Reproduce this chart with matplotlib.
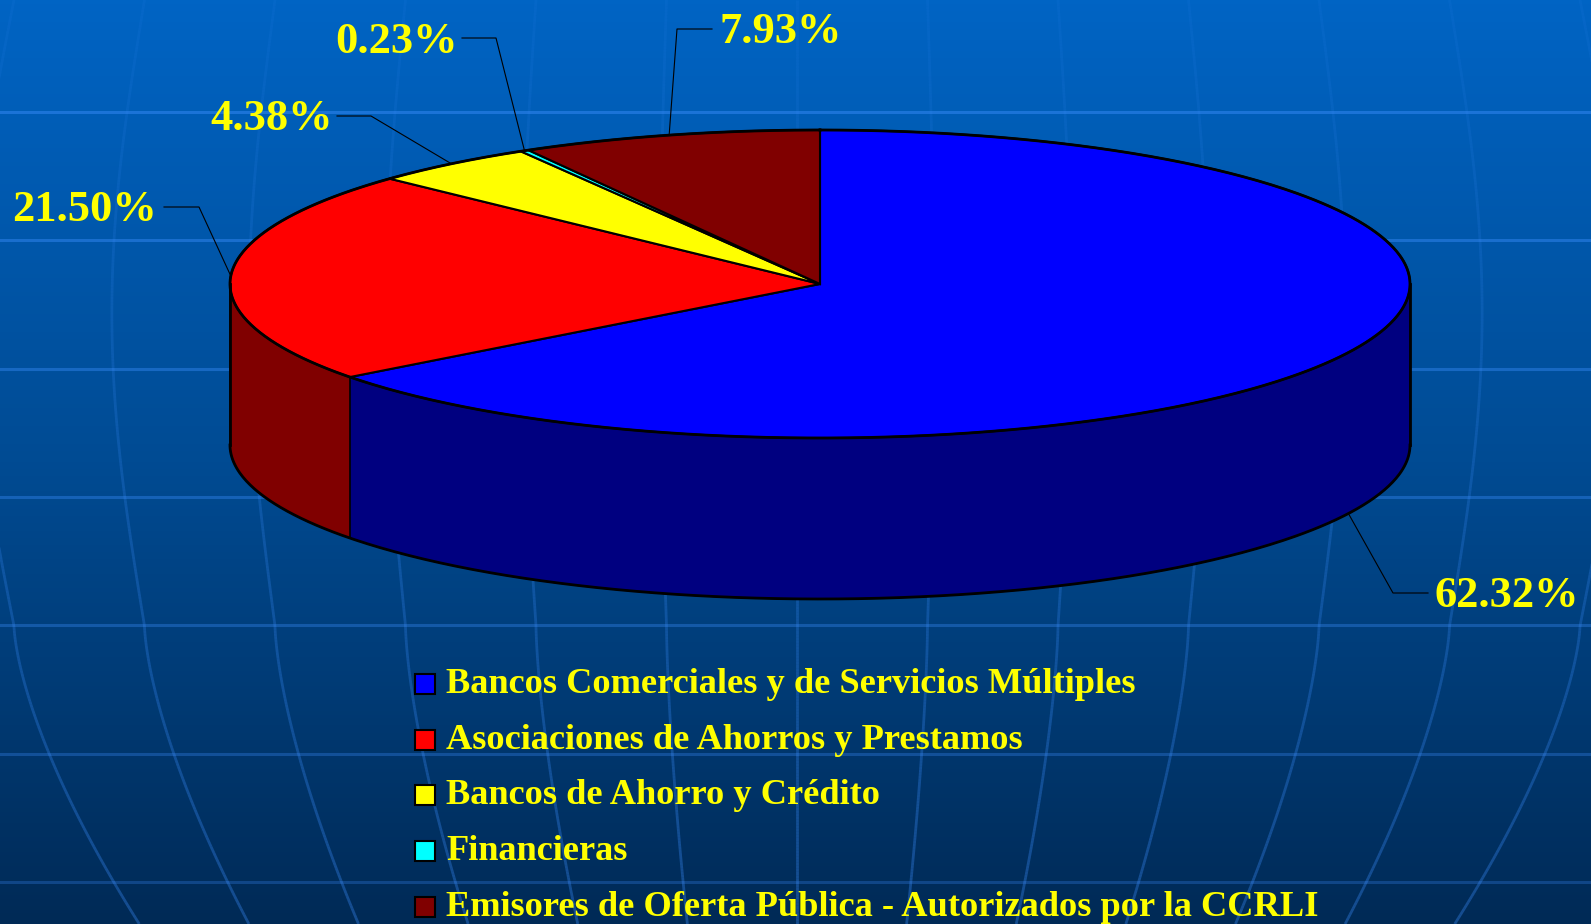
import numpy as np
import matplotlib.pyplot as plt
from matplotlib.colors import LinearSegmentedColormap, to_rgba
from matplotlib.collections import LineCollection
from matplotlib.patches import Polygon, Rectangle

# data
categories = [
    "Bancos Comerciales y de Servicios Múltiples",
    "Asociaciones de Ahorros y Prestamos",
    "Bancos de Ahorro y Crédito",
    "Financieras",
    "Emisores de Oferta Pública - Autorizados por la CCRLI",
]
values = [62.32, 21.50, 4.38, 0.23, 7.93]
top_colors = ["#0000FF", "#FF0000", "#FFFF00", "#00FFFF", "#800000"]
side_colors = ["#000080", "#800000", "#808000", "#008080", "#400000"]

# label layout: text x, baseline y, elbow x, elbow y, line end x
label_layout = [
    (1435, 607, 1393, 593, 1428),
    (12, 221, 199, 207, 164),
    (210, 130, 371, 116, 337),
    (335, 53, 496, 38, 462),
    (719, 43, 677, 29, 712),
]

W, H = 1591, 924
fig = plt.figure(figsize=(W / 100, H / 100), dpi=100)
ax = fig.add_axes([0, 0, 1, 1])
ax.set_xlim(0, W)
ax.set_ylim(H, 0)
ax.axis("off")

# background gradient + globe grid
bg = LinearSegmentedColormap.from_list("bg", ["#0064C4", "#004B93", "#002A56"])
ax.imshow(np.linspace(0, 1, 256).reshape(-1, 1), cmap=bg, extent=(0, W, H, 0),
          aspect="auto", zorder=0)
for k in range(7):
    y = 112 + 128.3 * k
    ax.axhline(y, color="#3d8fff", alpha=0.45 - 0.03 * k, lw=2.2, zorder=1)

ys = np.linspace(0, H, 300)
g = np.where(ys < 626, 1 + 0.05 * np.sin(np.pi * ys / 626),
             1 - 0.16 * np.clip((ys - 626) / 298, 0, None) ** 1.5)
seg_alpha = 0.08 + 0.27 * (ys[:-1] / H)
seg_colors = [to_rgba("#3d8fff", al) for al in seg_alpha]
for k in range(-6, 7):
    xs = 797 + 130.5 * k * g
    pts = np.column_stack([xs, ys]).reshape(-1, 1, 2)
    segs = np.concatenate([pts[:-1], pts[1:]], axis=1)
    ax.add_collection(LineCollection(segs, colors=seg_colors, lw=2, zorder=1))

# 3d pie
cx, cy, a, b, depth = 820, 284, 590, 154, 161
frac = np.array(values) / sum(values)
edges = np.concatenate([[0], np.cumsum(frac) * 360])


def rim(t0, t1, dz=0):
    t = np.radians(np.linspace(t0, t1, int(abs(t1 - t0) * 2) + 2))
    return np.column_stack([cx + a * np.sin(t), cy - b * np.cos(t) + dz])


for i in range(len(values)):
    s, e = max(edges[i], 90), min(edges[i + 1], 270)
    if e > s:
        pts = np.vstack([rim(s, e), rim(e, s, depth)])
        ax.add_patch(Polygon(pts, closed=True, fc=side_colors[i], ec="black", lw=1.0, zorder=2))

for i in range(len(values)):
    pts = np.vstack([[cx, cy], rim(edges[i], edges[i + 1])])
    ax.add_patch(Polygon(pts, closed=True, fc=top_colors[i], ec="black", lw=1.5, zorder=3))

outline = rim(0, 360)
ax.plot(outline[:, 0], outline[:, 1], color="black", lw=2, zorder=4)
low = rim(90, 270, depth)
ax.plot(low[:, 0], low[:, 1], color="black", lw=2, zorder=4)
ax.plot([cx + a, cx + a], [cy, cy + depth], color="black", lw=2, zorder=4)
ax.plot([cx - a, cx - a], [cy, cy + depth], color="black", lw=2, zorder=4)

# percentage labels with leader lines
for i, v in enumerate(values):
    mid = np.radians((edges[i] + edges[i + 1]) / 2)
    px = cx + a * np.sin(mid)
    py = cy - b * np.cos(mid) + (depth if np.cos(mid) < 0 else 0)
    tx, ty, ex, ey, lx = label_layout[i]
    ax.plot([px, ex, lx], [py, ey, ey], color="black", lw=0.8, zorder=5)
    ax.text(tx, ty, f"{v:.2f}%", color="#FFFF00", fontsize=32, fontweight="bold",
            family="Liberation Serif", ha="left", va="baseline", zorder=6)

# legend
for i, name in enumerate(categories):
    base = 693 + 55.7 * i
    ax.add_patch(Rectangle((415, base - 19), 20, 20, fc=top_colors[i], ec="black",
                           lw=1.5, zorder=5))
    ax.text(446, base, name, color="#FFFF00", fontsize=26.2, fontweight="bold",
            family="Liberation Serif", ha="left", va="baseline", zorder=6)

fig.savefig("out.png", dpi=100)
